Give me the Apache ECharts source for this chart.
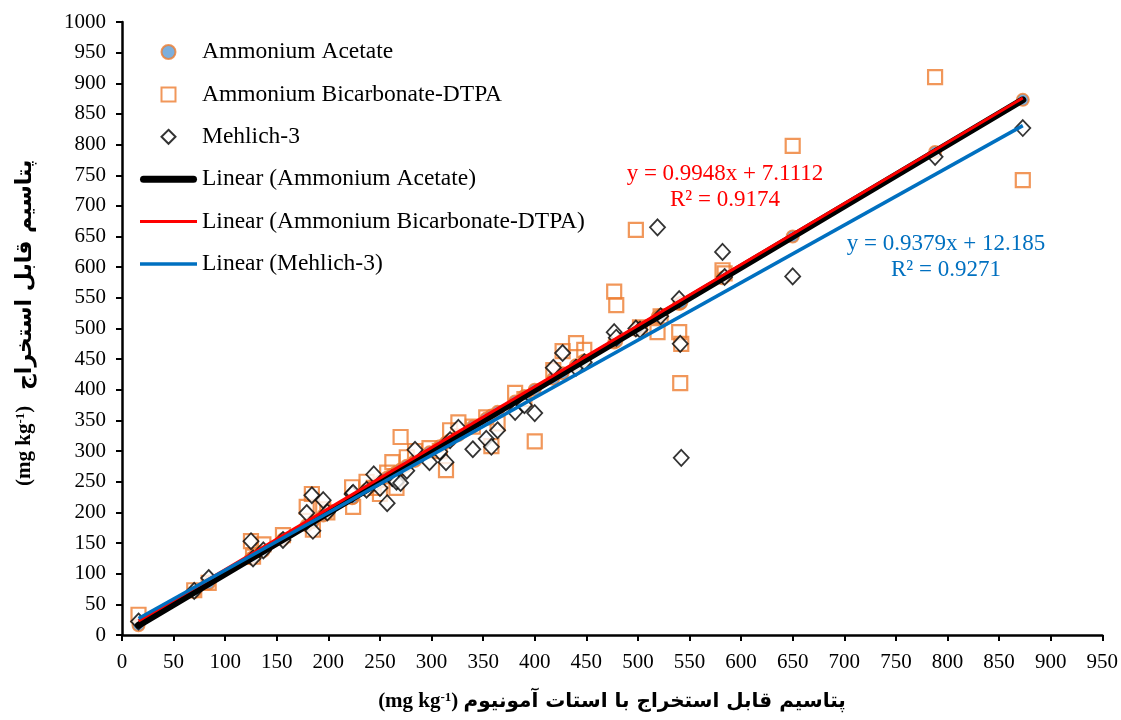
<!DOCTYPE html>
<html>
<head>
<meta charset="utf-8">
<script src="https://cdn.jsdelivr.net/npm/echarts@6/dist/echarts.min.js"></script>
<style>
  html, body { margin: 0; padding: 0; background: #fff; }
  #chart { width: 1121px; height: 720px; }
</style>
</head>
<body>
<div id="chart"></div>
<script>
// Ammonium acetate K (x) for each soil sample
const acetate = [16, 70, 84, 125, 127, 137, 156, 179, 184, 185, 195, 199, 223, 224, 237, 244, 250, 257, 262, 266,
  270, 276, 284, 298, 308, 314, 318, 326, 340, 353, 358, 364, 381, 390, 400, 418, 427, 440, 448, 477,
  479, 498, 502, 519, 522, 540, 541, 542, 582, 584, 650, 788, 873];
// Ammonium bicarbonate-DTPA K, same samples
const bicarbonate = [33, 73, 85, 153, 128, 148, 163, 209, 230, 172, 205, 200, 241, 209, 250, 240, 230, 265, 282, 240,
  323, 290, 300, 305, 300, 269, 334, 347, 340, 355, 308, 345, 395, 385, 316, 432, 463, 476, 465, 560,
  538, 661, 502, 494, 520, 494, 411, 475, 595, 590, 798, 910, 742];
// Mehlich-3 K, same samples
const mehlich = [22, 72, 93, 153, 125, 138, 155, 199, 228, 170, 220, 200, 230, 232, 237, 262, 240, 215, 256, 250,
  248, 268, 302, 282, 299, 282, 318, 338, 303, 320, 307, 334, 364, 375, 362, 436, 460, 436, 445, 494,
  485, 500, 498, 665, 520, 548, 475, 289, 625, 584, 585, 780, 827];

// trendline end points
const trendAcetate = [[16, 16], [873, 873]];
const trendBicarbonate = [[16, 23], [873, 876]];
const trendMehlich = [[16, 27], [873, 831]];

const xTitle = 'پتاسیم قابل استخراج با استات آمونیوم';
const yTitle = 'پتاسیم قابل استخراج';

const serif = "'Liberation Serif', 'Times New Roman', serif";
const persian = "'DejaVu Sans', 'Noto Sans', sans-serif";

// legend icons: the leading moves pad each path to a fixed box so the marks keep their size
const iconCircle = 'path://M0,0M20,20M10,3A7,7,0,1,1,10,17A7,7,0,1,1,10,3z';
const iconSquare = 'path://M0,0M20,20M3,3h14v14h-14z';
const iconDiamond = 'path://M0,0M20,20M10,3L17,10L10,17L3,10z';
const iconThick = 'path://M0,0M57,20M3.5,6.5h50a3.5,3.5,0,0,1,0,7h-50a3.5,3.5,0,0,1,0,-7z';
const iconThin = 'path://M0,0M57,20M0,8.5h57v3h-57z';
const iconMid = 'path://M0,0M57,20M0,8.2h57v3.6h-57z';

const chart = echarts.init(document.getElementById('chart'));

const toPoints = ys => acetate.map((x, i) => [x, ys[i]]);

const titleRich = {
  lat: { fontFamily: serif, fontWeight: 'bold', fontSize: 21, fill: '#000' },
  sup: { fontFamily: serif, fontWeight: 'bold', fontSize: 13, fill: '#000', verticalAlign: 'top', padding: [0, 0, 9, 0] },
  fa: { fontFamily: persian, fontWeight: 'bold', fontSize: 20, fill: '#000' },
  faBig: { fontFamily: persian, fontWeight: 'bold', fontSize: 22, fill: '#000' }
};

const eqStyle = (text, color) => ({
  text, fontFamily: serif, fontSize: 23, fill: color, align: 'center', verticalAlign: 'middle'
});

const option = {
  backgroundColor: '#fff',
  animation: false,
  grid: { left: 122, right: 14, top: 22, bottom: 85 },
  legend: {
    orient: 'vertical',
    left: 140,
    top: 40,
    padding: 0,
    itemWidth: 57,
    itemHeight: 20,
    itemGap: 18.4,
    symbolKeepAspect: true,
    textStyle: { fontFamily: serif, fontSize: 23.5, color: '#000' },
    data: [
      { name: 'Ammonium Acetate', icon: iconCircle },
      { name: 'Ammonium Bicarbonate-DTPA', icon: iconSquare },
      { name: 'Mehlich-3', icon: iconDiamond },
      { name: 'Linear (Ammonium Acetate)', icon: iconThick },
      { name: 'Linear (Ammonium Bicarbonate-DTPA)', icon: iconThin },
      { name: 'Linear (Mehlich-3)', icon: iconMid }
    ]
  },
  xAxis: {
    type: 'value',
    min: 0,
    max: 950,
    interval: 50,
    splitLine: { show: false },
    axisLine: { onZero: false, lineStyle: { color: '#000', width: 2.5 } },
    axisTick: { length: 6, lineStyle: { color: '#000', width: 2 } },
    axisLabel: { fontFamily: serif, fontSize: 21, color: '#000', margin: 17 }
  },
  yAxis: {
    type: 'value',
    min: 0,
    max: 1000,
    interval: 50,
    splitLine: { show: false },
    axisLine: { show: true, onZero: false, lineStyle: { color: '#000', width: 2.5 } },
    axisTick: { show: true, length: 6, lineStyle: { color: '#000', width: 2 } },
    axisLabel: { fontFamily: serif, fontSize: 21, color: '#000', margin: 16, formatter: v => String(v) }
  },
  graphic: [
    {
      type: 'text', x: 612, y: 691,
      style: {
        text: '{lat|(mg kg}{sup|-1}{lat|) }{fa|' + xTitle + '}',
        align: 'center',
        rich: titleRich
      }
    },
    {
      type: 'text', x: 14, y: 486, rotation: Math.PI / 2,
      style: {
        text: '{lat|(mg kg}{sup|-1}{lat|)   }{faBig|' + yTitle + '}',
        rich: titleRich
      }
    },
    { type: 'text', x: 725, y: 174, style: eqStyle('y = 0.9948x + 7.1112', '#FF0000') },
    { type: 'text', x: 725, y: 200, style: eqStyle('R² = 0.9174', '#FF0000') },
    { type: 'text', x: 946, y: 244, style: eqStyle('y = 0.9379x + 12.185', '#0070C0') },
    { type: 'text', x: 946, y: 270, style: eqStyle('R² = 0.9271', '#0070C0') }
  ],
  series: [
    {
      name: 'Ammonium Acetate',
      type: 'scatter',
      z: 2,
      symbol: 'circle',
      symbolSize: 12,
      data: toPoints(acetate),
      itemStyle: { color: '#5B9BD5', borderColor: '#ED7D31', borderWidth: 2 }
    },
    {
      name: 'Ammonium Bicarbonate-DTPA',
      type: 'scatter',
      z: 2,
      symbol: 'rect',
      symbolSize: 14,
      data: toPoints(bicarbonate),
      itemStyle: { color: 'rgba(255,255,255,0)', borderColor: '#ED7D31', borderWidth: 2.2 }
    },
    {
      name: 'Mehlich-3',
      type: 'scatter',
      z: 2,
      symbol: 'diamond',
      symbolSize: [15, 16],
      data: toPoints(mehlich),
      itemStyle: { color: '#fff', borderColor: '#000', borderWidth: 1.8 }
    },
    {
      name: 'Linear (Ammonium Acetate)',
      type: 'line',
      z: 3,
      symbol: 'none',
      data: trendAcetate,
      lineStyle: { color: '#000', width: 7, cap: 'round' },
      itemStyle: { color: '#000' }
    },
    {
      name: 'Linear (Ammonium Bicarbonate-DTPA)',
      type: 'line',
      z: 4,
      symbol: 'none',
      data: trendBicarbonate,
      lineStyle: { color: '#FF0000', width: 3 },
      itemStyle: { color: '#FF0000' }
    },
    {
      name: 'Linear (Mehlich-3)',
      type: 'line',
      z: 5,
      symbol: 'none',
      data: trendMehlich,
      lineStyle: { color: '#0070C0', width: 3.5 },
      itemStyle: { color: '#0070C0' }
    }
  ]
};

chart.setOption(option);
</script>
</body>
</html>
